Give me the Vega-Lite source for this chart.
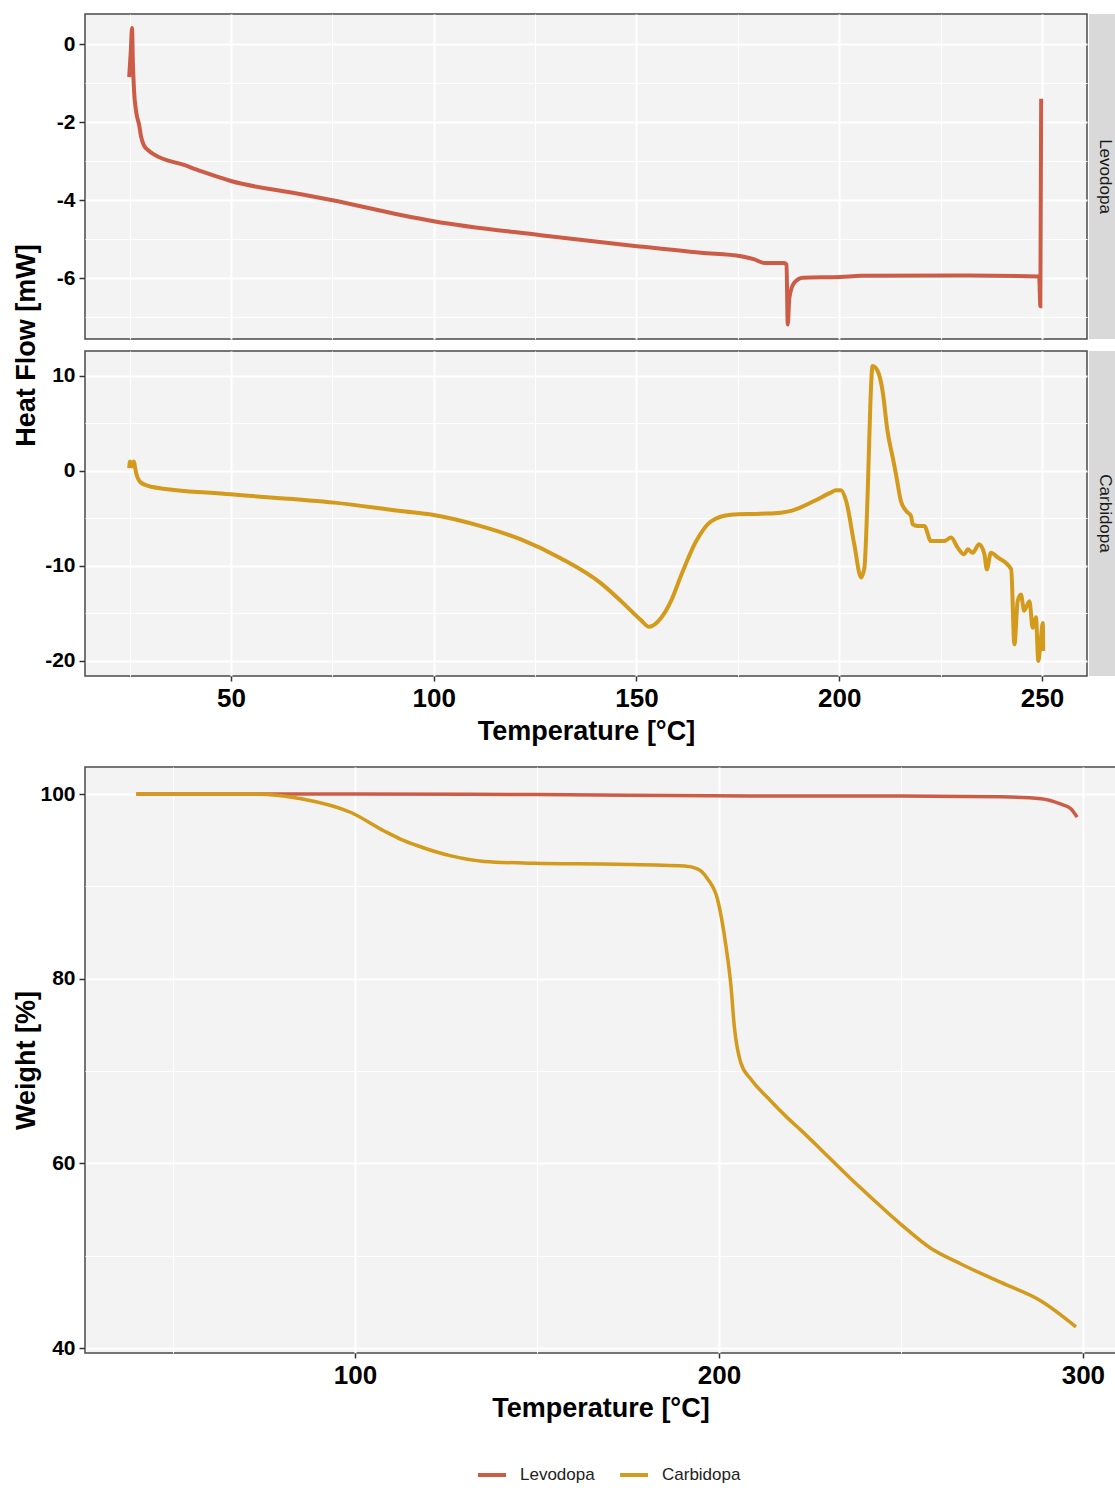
{
 "$schema": "https://vega.github.io/schema/vega-lite/v6.json",
 "background": "white",
 "padding": {"left": 11, "top": 13, "right": 0, "bottom": 0},
 "autosize": {"type": "pad"},
 "config": {
  "font": "Liberation Sans",
  "view": {"fill": "#f3f3f3", "stroke": "#4a4a4a", "strokeWidth": 1.5},
  "axis": {"labelFont": "Liberation Sans", "labelFontWeight": "bold", "labelColor": "#000000", "titleFont": "Liberation Sans", "titleFontWeight": "bold", "titleColor": "#000000", "domain": false, "tickSize": 5, "tickWidth": 1.5, "tickColor": "#333333", "gridColor": "#ffffff", "gridOpacity": 1, "labelPadding": 3},
  "legend": {"orient": "none", "legendX": 391, "legendY": 1445, "direction": "horizontal", "symbolType": "stroke", "symbolStrokeWidth": 4, "symbolSize": 784, "labelFont": "Liberation Sans", "labelFontSize": 17, "labelColor": "#222222", "columnPadding": 17, "labelOffset": 12, "padding": 0}
 },
 "datasets": {
  "dscLev": [
   {"sample":"Levodopa","T":24.9,"hf":-0.85},{"sample":"Levodopa","T":25.3,"hf":-0.17},{"sample":"Levodopa","T":25.6,"hf":0.41},{"sample":"Levodopa","T":25.8,"hf":-0.44},{"sample":"Levodopa","T":26.1,"hf":-1.2},{"sample":"Levodopa","T":26.6,"hf":-1.72},{"sample":"Levodopa","T":27.4,"hf":-2.1},{"sample":"Levodopa","T":27.8,"hf":-2.36},{"sample":"Levodopa","T":28.6,"hf":-2.61},{"sample":"Levodopa","T":29.8,"hf":-2.74},{"sample":"Levodopa","T":31.0,"hf":-2.83},{"sample":"Levodopa","T":38.4,"hf":-3.1},{"sample":"Levodopa","T":42.6,"hf":-3.26},{"sample":"Levodopa","T":50,"hf":-3.51},{"sample":"Levodopa","T":67.3,"hf":-3.85},{"sample":"Levodopa","T":75.4,"hf":-4.01},{"sample":"Levodopa","T":91.9,"hf":-4.38},{"sample":"Levodopa","T":100,"hf":-4.54},{"sample":"Levodopa","T":126.4,"hf":-4.9},{"sample":"Levodopa","T":150.1,"hf":-5.18},{"sample":"Levodopa","T":165.9,"hf":-5.35},{"sample":"Levodopa","T":175.8,"hf":-5.44},{"sample":"Levodopa","T":179.1,"hf":-5.52},{"sample":"Levodopa","T":181.5,"hf":-5.61},{"sample":"Levodopa","T":186.4,"hf":-5.61},{"sample":"Levodopa","T":187.0,"hf":-5.65},{"sample":"Levodopa","T":187.3,"hf":-7.19},{"sample":"Levodopa","T":187.7,"hf":-6.5},{"sample":"Levodopa","T":188.9,"hf":-6.12},{"sample":"Levodopa","T":191.0,"hf":-5.99},{"sample":"Levodopa","T":200.4,"hf":-5.97},{"sample":"Levodopa","T":205.4,"hf":-5.94},{"sample":"Levodopa","T":231.7,"hf":-5.93},{"sample":"Levodopa","T":249.3,"hf":-5.96},{"sample":"Levodopa","T":249.6,"hf":-6.72},{"sample":"Levodopa","T":249.8,"hf":-1.4}
  ],
  "dscCarb": [
   {"sample":"Carbidopa","T":24.9,"hf":0.3},{"sample":"Carbidopa","T":25.1,"hf":1.0},{"sample":"Carbidopa","T":25.6,"hf":0.5},{"sample":"Carbidopa","T":26.0,"hf":1.0},{"sample":"Carbidopa","T":26.6,"hf":-0.2},{"sample":"Carbidopa","T":27.8,"hf":-1.23},{"sample":"Carbidopa","T":30.3,"hf":-1.65},{"sample":"Carbidopa","T":50,"hf":-2.46},{"sample":"Carbidopa","T":75.5,"hf":-3.33},{"sample":"Carbidopa","T":91.9,"hf":-4.21},{"sample":"Carbidopa","T":100,"hf":-4.63},{"sample":"Carbidopa","T":111.6,"hf":-5.8},{"sample":"Carbidopa","T":121.5,"hf":-7.2},{"sample":"Carbidopa","T":131.4,"hf":-9.2},{"sample":"Carbidopa","T":141.2,"hf":-11.8},{"sample":"Carbidopa","T":146.2,"hf":-13.7},{"sample":"Carbidopa","T":151.1,"hf":-15.7},{"sample":"Carbidopa","T":153.1,"hf":-16.4},{"sample":"Carbidopa","T":156.0,"hf":-15.5},{"sample":"Carbidopa","T":158.5,"hf":-13.7},{"sample":"Carbidopa","T":161.0,"hf":-11.0},{"sample":"Carbidopa","T":164.7,"hf":-7.4},{"sample":"Carbidopa","T":168.4,"hf":-5.3},{"sample":"Carbidopa","T":173.3,"hf":-4.6},{"sample":"Carbidopa","T":180.7,"hf":-4.5},{"sample":"Carbidopa","T":185.6,"hf":-4.39},{"sample":"Carbidopa","T":188.1,"hf":-4.2},{"sample":"Carbidopa","T":193.8,"hf":-3.16},{"sample":"Carbidopa","T":197.9,"hf":-2.28},{"sample":"Carbidopa","T":199.2,"hf":-2.04},{"sample":"Carbidopa","T":200.4,"hf":-2.03},{"sample":"Carbidopa","T":201.7,"hf":-3.16},{"sample":"Carbidopa","T":203.7,"hf":-7.7},{"sample":"Carbidopa","T":205.4,"hf":-11.2},{"sample":"Carbidopa","T":206.2,"hf":-10.2},{"sample":"Carbidopa","T":207.0,"hf":-2.5},{"sample":"Carbidopa","T":207.7,"hf":7.4},{"sample":"Carbidopa","T":208.2,"hf":11.05},{"sample":"Carbidopa","T":209.5,"hf":10.5},{"sample":"Carbidopa","T":210.7,"hf":8.4},{"sample":"Carbidopa","T":211.9,"hf":4.2},{"sample":"Carbidopa","T":213.2,"hf":1.4},{"sample":"Carbidopa","T":214.0,"hf":-0.35},{"sample":"Carbidopa","T":215.2,"hf":-3.16},{"sample":"Carbidopa","T":216.5,"hf":-4.2},{"sample":"Carbidopa","T":217.7,"hf":-4.74},{"sample":"Carbidopa","T":218.1,"hf":-5.6},{"sample":"Carbidopa","T":219.3,"hf":-5.8},{"sample":"Carbidopa","T":221.0,"hf":-5.8},{"sample":"Carbidopa","T":222.6,"hf":-7.37},{"sample":"Carbidopa","T":224.3,"hf":-7.37},{"sample":"Carbidopa","T":225.9,"hf":-7.37},{"sample":"Carbidopa","T":227.6,"hf":-7.0},{"sample":"Carbidopa","T":229.2,"hf":-8.07},{"sample":"Carbidopa","T":230.8,"hf":-8.77},{"sample":"Carbidopa","T":231.7,"hf":-8.25},{"sample":"Carbidopa","T":232.9,"hf":-8.6},{"sample":"Carbidopa","T":234.5,"hf":-7.72},{"sample":"Carbidopa","T":235.8,"hf":-8.77},{"sample":"Carbidopa","T":236.4,"hf":-10.35},{"sample":"Carbidopa","T":237.4,"hf":-8.6},{"sample":"Carbidopa","T":239.1,"hf":-9.1},{"sample":"Carbidopa","T":242.4,"hf":-10.35},{"sample":"Carbidopa","T":243.2,"hf":-18.25},{"sample":"Carbidopa","T":244.0,"hf":-13.7},{"sample":"Carbidopa","T":244.8,"hf":-13.0},{"sample":"Carbidopa","T":245.6,"hf":-14.7},{"sample":"Carbidopa","T":246.9,"hf":-13.7},{"sample":"Carbidopa","T":247.7,"hf":-16.5},{"sample":"Carbidopa","T":248.5,"hf":-15.4},{"sample":"Carbidopa","T":249.1,"hf":-20.0},{"sample":"Carbidopa","T":249.6,"hf":-18.25},{"sample":"Carbidopa","T":250.2,"hf":-16.0},{"sample":"Carbidopa","T":250.3,"hf":-18.95}
  ],
  "tga": [
   {"sample":"Levodopa","T":40,"w":100},{"sample":"Levodopa","T":100,"w":100},{"sample":"Levodopa","T":150,"w":99.95},{"sample":"Levodopa","T":208.8,"w":99.8},{"sample":"Levodopa","T":250,"w":99.8},{"sample":"Levodopa","T":277.5,"w":99.7},{"sample":"Levodopa","T":288.5,"w":99.5},{"sample":"Levodopa","T":294,"w":98.9},{"sample":"Levodopa","T":296.7,"w":98.4},{"sample":"Levodopa","T":298.4,"w":97.5},
   {"sample":"Carbidopa","T":39.8,"w":100},{"sample":"Carbidopa","T":71.4,"w":100},{"sample":"Carbidopa","T":76,"w":99.95},{"sample":"Carbidopa","T":85.2,"w":99.5},{"sample":"Carbidopa","T":98.9,"w":98.0},{"sample":"Carbidopa","T":108.0,"w":96.0},{"sample":"Carbidopa","T":112.6,"w":95.1},{"sample":"Carbidopa","T":117.2,"w":94.4},{"sample":"Carbidopa","T":126.4,"w":93.3},{"sample":"Carbidopa","T":135.5,"w":92.7},{"sample":"Carbidopa","T":149.3,"w":92.5},{"sample":"Carbidopa","T":172.2,"w":92.4},{"sample":"Carbidopa","T":190.5,"w":92.2},{"sample":"Carbidopa","T":194.1,"w":91.9},{"sample":"Carbidopa","T":196.9,"w":90.8},{"sample":"Carbidopa","T":199.6,"w":88.6},{"sample":"Carbidopa","T":201.9,"w":83.6},{"sample":"Carbidopa","T":203.3,"w":79.2},{"sample":"Carbidopa","T":204.2,"w":74.9},{"sample":"Carbidopa","T":206.0,"w":70.9},{"sample":"Carbidopa","T":208.8,"w":69.1},{"sample":"Carbidopa","T":213.4,"w":67.1},{"sample":"Carbidopa","T":218.9,"w":64.9},{"sample":"Carbidopa","T":222.5,"w":63.6},{"sample":"Carbidopa","T":228.0,"w":61.5},{"sample":"Carbidopa","T":236.3,"w":58.3},{"sample":"Carbidopa","T":241.8,"w":56.3},{"sample":"Carbidopa","T":250.0,"w":53.4},{"sample":"Carbidopa","T":258.2,"w":50.8},{"sample":"Carbidopa","T":266.5,"w":49.1},{"sample":"Carbidopa","T":277.5,"w":47.1},{"sample":"Carbidopa","T":288.5,"w":45.1},{"sample":"Carbidopa","T":298.1,"w":42.3}
  ]
 },
 "vconcat": [
  {
   "hconcat": [
    {
     "vconcat": [
      {
       "width": 1002, "height": 325,
       "data": {"name": "dscLev"},
       "mark": {"type": "line", "strokeWidth": 4, "clip": true, "interpolate": "monotone"},
       "encoding": {
        "x": {"field": "T", "type": "quantitative", "scale": {"domain": [14, 261.1], "nice": false, "zero": false},
              "axis": {"title": null, "labels": false, "ticks": false, "values": [25,50,75,100,125,150,175,200,225,250], "gridWidth": {"condition": {"test": "datum.value % 50 === 0", "value": 2}, "value": 1}}},
        "y": {"field": "hf", "type": "quantitative", "scale": {"domain": [-7.56, 0.77], "nice": false, "zero": false},
              "axis": {"title": "Heat Flow [mW]", "values": [-7,-6,-5,-4,-3,-2,-1,0], "labelExpr": "datum.value % 2 === 0 ? '' + datum.value : ''", "labelFontSize": 21, "tickSize": 6, "labelPadding": 4, "tickColor": {"condition": {"test": "datum.value % 2 === 0", "value": "#333333"}, "value": "transparent"}, "gridWidth": {"condition": {"test": "datum.value % 2 === 0", "value": 2}, "value": 1}, "titleFontSize": 27, "titleX": -59, "titleY": 331, "titleBaseline": "middle", "titleAlign": "center", "titleAngle": -90}},
        "color": {"field": "sample", "type": "nominal", "scale": {"domain": ["Levodopa", "Carbidopa"], "range": ["#CD5C47", "#D39A1B"]}, "legend": {"title": null}}
       }
      },
      {
       "width": 1002, "height": 325,
       "data": {"name": "dscCarb"},
       "mark": {"type": "line", "strokeWidth": 4, "clip": true, "interpolate": "monotone"},
       "encoding": {
        "x": {"field": "T", "type": "quantitative", "scale": {"domain": [14, 261.1], "nice": false, "zero": false},
              "axis": {"title": "Temperature [°C]", "values": [25,50,75,100,125,150,175,200,225,250], "labelExpr": "datum.value % 50 === 0 ? '' + datum.value : ''", "labelFontSize": 26, "labelPadding": 4, "tickColor": {"condition": {"test": "datum.value % 50 === 0", "value": "#333333"}, "value": "transparent"}, "gridWidth": {"condition": {"test": "datum.value % 50 === 0", "value": 2}, "value": 1}, "titleFontSize": 27, "titlePadding": 7}},
        "y": {"field": "hf", "type": "quantitative", "scale": {"domain": [-21.58, 12.63], "nice": false, "zero": false},
              "axis": {"title": null, "values": [-20,-15,-10,-5,0,5,10], "labelExpr": "datum.value % 10 === 0 ? '' + datum.value : ''", "labelFontSize": 21, "tickSize": 6, "labelPadding": 4, "tickColor": {"condition": {"test": "datum.value % 10 === 0", "value": "#333333"}, "value": "transparent"}, "gridWidth": {"condition": {"test": "datum.value % 10 === 0", "value": 2}, "value": 1}}},
        "color": {"field": "sample", "type": "nominal", "scale": {"domain": ["Levodopa", "Carbidopa"], "range": ["#CD5C47", "#D39A1B"]}, "legend": {"title": null}}
       }
      }
     ],
     "spacing": 12,
     "bounds": "flush"
    },
    {
     "vconcat": [
      {
       "width": 32, "height": 325,
       "view": {"fill": "#d9d9d9", "stroke": null},
       "data": {"values": [{"panel": "Levodopa"}]},
       "mark": {"type": "text", "angle": 90, "fontSize": 17, "font": "Liberation Sans", "color": "#1a1a1a"},
       "encoding": {"text": {"field": "panel", "type": "nominal"}}
      },
      {
       "width": 32, "height": 325,
       "view": {"fill": "#d9d9d9", "stroke": null},
       "data": {"values": [{"panel": "Carbidopa"}]},
       "mark": {"type": "text", "angle": 90, "fontSize": 17, "font": "Liberation Sans", "color": "#1a1a1a"},
       "encoding": {"text": {"field": "panel", "type": "nominal"}}
      }
     ],
     "spacing": 12,
     "bounds": "flush"
    }
   ],
   "spacing": 1
  },
  {
   "width": 1031, "height": 586,
   "data": {"name": "tga"},
   "mark": {"type": "line", "strokeWidth": 3.5, "clip": true, "interpolate": "monotone"},
   "encoding": {
    "x": {"field": "T", "type": "quantitative", "scale": {"domain": [25.8, 309.1], "nice": false, "zero": false},
          "axis": {"title": "Temperature [°C]", "values": [50,100,150,200,250,300], "labelExpr": "datum.value % 100 === 0 ? '' + datum.value : ''", "labelFontSize": 26, "labelPadding": 4, "tickColor": {"condition": {"test": "datum.value % 100 === 0", "value": "#333333"}, "value": "transparent"}, "gridWidth": {"condition": {"test": "datum.value % 100 === 0", "value": 2}, "value": 1}, "titleFontSize": 27, "titlePadding": 7}},
    "y": {"field": "w", "type": "quantitative", "scale": {"domain": [39.46, 102.93], "nice": false, "zero": false},
          "axis": {"title": "Weight [%]", "values": [40,50,60,70,80,90,100], "labelExpr": "datum.value % 20 === 0 ? '' + datum.value : ''", "labelFontSize": 21, "tickSize": 6, "labelPadding": 4, "tickColor": {"condition": {"test": "datum.value % 20 === 0", "value": "#333333"}, "value": "transparent"}, "gridWidth": {"condition": {"test": "datum.value % 20 === 0", "value": 2}, "value": 1}, "titleFontSize": 27, "titleX": -59, "titleBaseline": "middle", "titleAlign": "center", "titleAngle": -90}},
    "color": {"field": "sample", "type": "nominal", "scale": {"domain": ["Levodopa", "Carbidopa"], "range": ["#CD5C47", "#D39A1B"]}, "legend": {"title": null}}
   }
  }
 ],
 "spacing": 21
}
